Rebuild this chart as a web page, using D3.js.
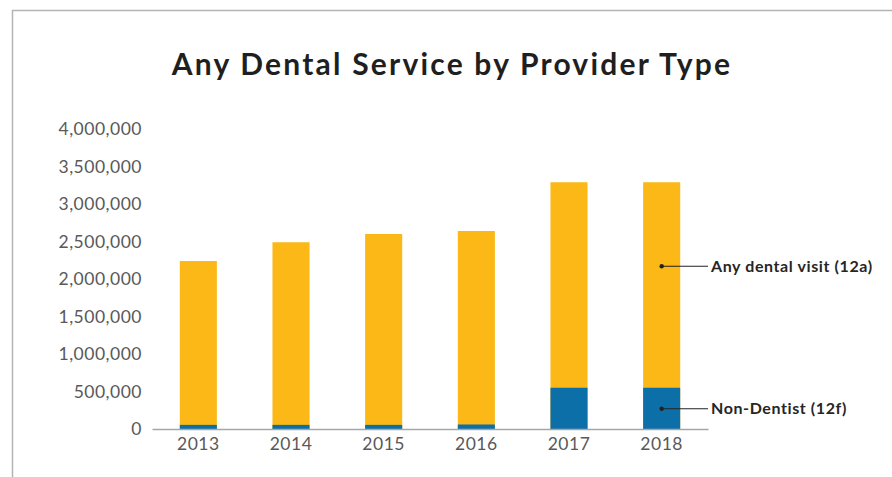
<!DOCTYPE html>
<html>
<head>
<meta charset="utf-8">
<script src="https://cdn.jsdelivr.net/npm/d3@7"></script>
<style>
	body { margin:0; background:#fff; }
	text { font-family: "Lato", "DejaVu Sans", sans-serif; }
</style>
</head>
<body>
<svg id="chart" width="892" height="477"></svg>
<script>
// chart data
const years = ['2013','2014','2015','2016','2017','2018'];
const anyDental = [2240000, 2490000, 2600000, 2640000, 3290000, 3290000];
const nonDentist = [55000, 55000, 55000, 60000, 550000, 550000];
const yTicks = [0, 500000, 1000000, 1500000, 2000000, 2500000, 3000000, 3500000, 4000000];
const title = 'Any Dental Service by Provider Type';
const seriesLabels = ['Any dental visit (12a)', 'Non-Dentist (12f)'];
// value on the y scale where each series label points
const labelAnchors = [2170000, 270000];

const svg = d3.select('#chart');
const W = +svg.attr('width');
const H = +svg.attr('height');

const margin = {top:129, right:184, bottom:48, left:152};
const innerWidth = W - margin.left - margin.right;
const innerHeight = H - margin.top - margin.bottom;

// outer frame (only top and left visible in the crop)
svg.append('path')
	.attr('d', `M12.5,${H} L12.5,10.5 L${W},10.5`)
	.attr('fill','none')
	.attr('stroke','#b4b4b4')
	.attr('stroke-width',1.5);

svg.append('text')
	.attr('x', 452)
	.attr('y', 75)
	.attr('text-anchor','middle')
	.attr('font-size', 30)
	.attr('font-weight', 'bold')
	.attr('letter-spacing', 2.2)
	.attr('fill', '#1f1f1f')
	.text(title);

const g = svg.append('g')
	.attr('transform', `translate(${margin.left},${margin.top})`);

const xScale = d3.scaleBand()
	.domain(years)
	.range([0, innerWidth])
	.paddingInner(0.6)
	.paddingOuter(0.3);

const yScale = d3.scaleLinear()
	.domain([0, 4000000])
	.range([innerHeight, 0]);

// any dental visit bars
g.selectAll('rect.any').data(years)
	.enter().append('rect')
	.attr('class','any')
	.attr('x', d => xScale(d))
	.attr('width', xScale.bandwidth())
	.attr('y', (d,i) => yScale(anyDental[i]))
	.attr('height', (d,i) => innerHeight - yScale(anyDental[i]))
	.attr('fill', '#fbb817');

// non-dentist bars drawn over
g.selectAll('rect.non').data(years)
	.enter().append('rect')
	.attr('class','non')
	.attr('x', d => xScale(d))
	.attr('width', xScale.bandwidth())
	.attr('y', (d,i) => yScale(nonDentist[i]))
	.attr('height', (d,i) => innerHeight - yScale(nonDentist[i]))
	.attr('fill', '#0c6fa8');

const yAxis = d3.axisLeft(yScale)
	.tickValues(yTicks)
	.tickFormat(d3.format(','))
	.tickSize(0)
	.tickPadding(10);
const yAxisG = g.append('g').call(yAxis);
yAxisG.select('.domain').remove();
yAxisG.selectAll('text')
	.attr('font-size', 17.5)
	.attr('letter-spacing', 0.5)
	.attr('fill', '#595959')
	.attr('font-family', '"Lato", sans-serif');

const xAxis = d3.axisBottom(xScale)
	.tickSize(0)
	.tickPadding(9);
const xAxisG = g.append('g')
	.attr('transform', `translate(0,${innerHeight})`)
	.call(xAxis);
xAxisG.select('.domain')
	.attr('stroke', '#a6a6a6')
	.attr('stroke-width', 1.5);
xAxisG.selectAll('text')
	.attr('font-size', 17.5)
	.attr('letter-spacing', 0.5)
	.attr('fill', '#595959')
	.attr('font-family', '"Lato", sans-serif');

// series labels on the last bar
const last = years.length - 1;
const cx = xScale(years[last]) + xScale.bandwidth() / 2;
seriesLabels.forEach((lab, i) => {
	const ly = yScale(labelAnchors[i]);
	g.append('circle')
		.attr('cx', cx)
		.attr('cy', ly)
		.attr('r', 2.2)
		.attr('fill', '#222');
	g.append('line')
		.attr('x1', cx).attr('x2', innerWidth)
		.attr('y1', ly).attr('y2', ly)
		.attr('stroke', '#222')
		.attr('stroke-width', 1.2);
	g.append('text')
		.attr('x', innerWidth + 3)
		.attr('y', ly)
		.attr('dy', '0.35em')
		.attr('font-size', 16)
		.attr('font-weight', 'bold')
		.attr('letter-spacing', 0.6)
		.attr('fill', '#262626')
		.text(lab);
});
</script>
</body>
</html>
